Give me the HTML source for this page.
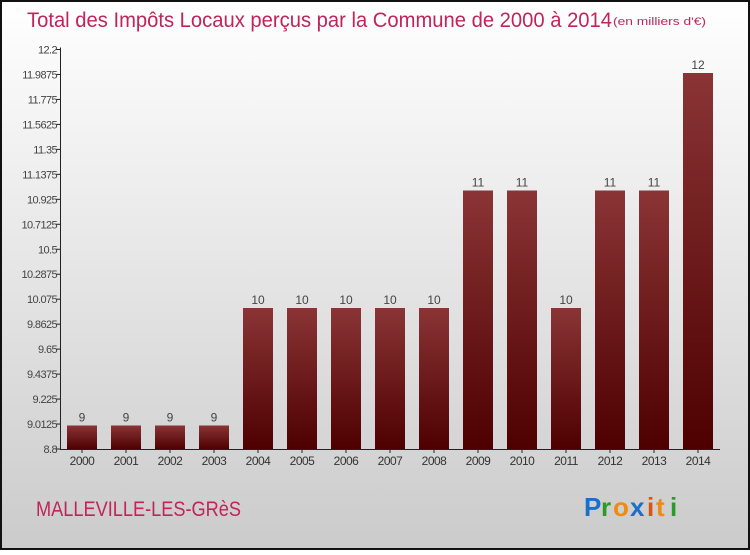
<!DOCTYPE html>
<html><head><meta charset="utf-8"><style>
html,body{margin:0;padding:0;}
body{width:750px;height:550px;overflow:hidden;font-family:"Liberation Sans",sans-serif;}
</style></head><body>
<svg id="chart" width="750" height="550" xmlns="http://www.w3.org/2000/svg">
<defs>
<linearGradient id="bg" x1="0" y1="0" x2="0" y2="1"><stop offset="0" stop-color="#ffffff"/><stop offset="1" stop-color="#cbcbcb"/></linearGradient>
<linearGradient id="bar" x1="0" y1="0" x2="0" y2="1"><stop offset="0" stop-color="#8a3436"/><stop offset="1" stop-color="#4e0000"/></linearGradient>
</defs>
<rect x="1" y="1" width="748" height="548" fill="url(#bg)" stroke="#111" stroke-width="2"/>
<text x="27" y="27" font-size="21" fill="#c0245a" textLength="585" lengthAdjust="spacingAndGlyphs">Total des Impôts Locaux perçus par la Commune de 2000 à 2014</text>
<text x="613" y="25" font-size="11" fill="#c0245a" textLength="93" lengthAdjust="spacingAndGlyphs">(en milliers d'€)</text>
<g id="yaxis"></g>
<g id="bars"></g>
<g id="xaxis"></g>
<text x="36" y="516" font-size="21" fill="#c0245a" textLength="205" lengthAdjust="spacingAndGlyphs">MALLEVILLE-LES-GRèS</text>
<g font-size="26" font-weight="bold">
<text x="584" y="516" fill="#1a6fc9">P</text><text x="601" y="516" fill="#2a9a2a">r</text><text x="613" y="516" fill="#f08a10">o</text><text x="630" y="516" fill="#1a6fc9">x</text><text x="647" y="516" fill="#e05010">i</text><text x="656" y="516" fill="#f08a10">t</text><text x="670" y="516" fill="#2a9a2a">i</text>
</g>
</svg>
<script>
const categories=["2000","2001","2002","2003","2004","2005","2006","2007","2008","2009","2010","2011","2012","2013","2014"];
const values=[9,9,9,9,10,10,10,10,10,11,11,10,11,11,12];
const valueLabels=["9","9","9","9","10","10","10","10","10","11","11","10","11","11","12"];
const yTicks=[8.8,9.0125,9.225,9.4375,9.65,9.8625,10.075,10.2875,10.5,10.7125,10.925,11.1375,11.35,11.5625,11.775,11.9875,12.2];
const yMin=8.8,yMax=12.2,plotTop=49.5,plotBottom=449,plotLeft=60,band=44,bw=30;
const ns="http://www.w3.org/2000/svg";
const yScale=v=>plotBottom-(v-yMin)/(yMax-yMin)*(plotBottom-plotTop);
const xc=i=>plotLeft+band*i+band/2;
function mk(t,a,p){const e=document.createElementNS(ns,t);for(const k in a)e.setAttribute(k,a[k]);p.appendChild(e);return e;}
const ya=document.getElementById('yaxis'),bg=document.getElementById('bars'),xa=document.getElementById('xaxis');
mk('line',{x1:plotLeft+0.5,y1:plotTop-2,x2:plotLeft+0.5,y2:plotBottom,stroke:'#222'},ya);
yTicks.forEach(t=>{
 const l=mk('line',{x1:plotLeft-4,y1:yScale(t),x2:plotLeft+0.5,y2:yScale(t),stroke:'#222'},ya);
 
 
 const tx=mk('text',{x:plotLeft-3,y:yScale(t)+4,'font-size':11,'text-anchor':'end',fill:'#444','letter-spacing':'-0.6'},ya);
 
 
 tx.textContent=String(t);
});
mk('line',{x1:plotLeft,y1:plotBottom+0.5,x2:plotLeft+band*categories.length,y2:plotBottom+0.5,stroke:'#222'},xa);
categories.forEach((c,i)=>{
 const r=mk('rect',{x:xc(i)-bw/2,y:yScale(values[i]),width:bw,height:plotBottom-yScale(values[i]),fill:'url(#bar)'},bg);
 
 
 const vl=mk('text',{x:xc(i),y:yScale(values[i])-4,'font-size':12,'text-anchor':'middle',fill:'#444'},bg);
 
 
 vl.textContent=valueLabels[i];
 mk('line',{x1:xc(i),y1:plotBottom,x2:xc(i),y2:plotBottom+4,stroke:'#222'},xa);
 const xl=mk('text',{x:xc(i),y:plotBottom+16,'font-size':12,'text-anchor':'middle',fill:'#333','letter-spacing':'-0.5'},xa);
 
 
 xl.textContent=c;
});
</script>
</body></html>
